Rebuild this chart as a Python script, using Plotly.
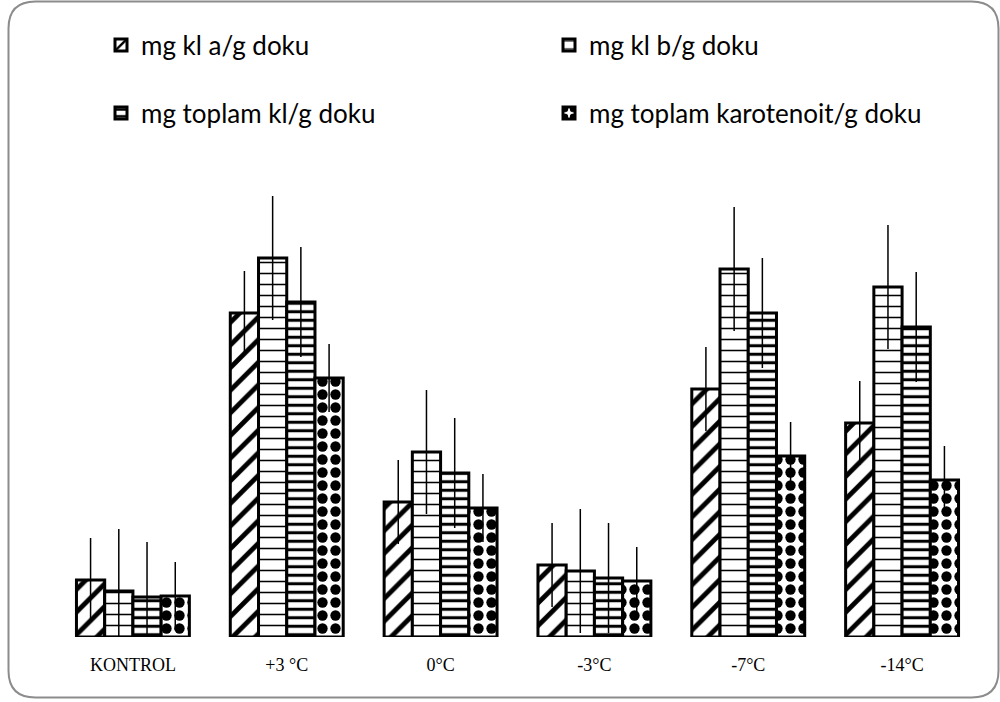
import plotly.graph_objects as go

# Chlorophyll / carotenoid content per treatment
categories = ["KONTROL", "+3 °C", "0°C", "-3°C", "-7°C", "-14°C"]
series_names = [
    "mg kl a/g doku",
    "mg kl b/g doku",
    "mg toplam kl/g doku",
    "mg toplam karotenoit/g doku",
]
kl_a = [0.285, 1.620, 0.675, 0.360, 1.240, 1.070]
kl_b = [0.230, 1.895, 0.925, 0.330, 1.840, 1.750]
kl_total = [0.200, 1.675, 0.820, 0.295, 1.620, 1.550]
carotenoid = [0.205, 1.295, 0.645, 0.280, 0.905, 0.785]
errors = [0.21, 0.31, 0.275, 0.17]

W, H = 1000, 702
M_L, M_R, M_T, M_B = 56, 21, 180, 65
Y_MAX = 2.285

patterns = [
    dict(shape="/", size=16, solidity=0.3),
    dict(shape="-", size=11, solidity=0.14),
    dict(shape="-", size=8.5, solidity=0.36),
    dict(shape=".", size=13, solidity=0.5),
]
values = [kl_a, kl_b, kl_total, carotenoid]
# one legend per entry: two columns, two rows
legend_ids = ["legend", "legend2", "legend3", "legend4"]
legend_xy = [(0.101, 45), (0.549, 45), (0.101, 113), (0.549, 113)]

fig = go.Figure()
for name, vals, pat, err, lg in zip(series_names, values, patterns, errors, legend_ids):
    fig.add_trace(go.Bar(
        x=categories,
        y=vals,
        name=name,
        legend=lg,
        marker=dict(
            color="white",
            line=dict(color="black", width=3),
            pattern=dict(pat, fgcolor="black", bgcolor="white",
                         fgopacity=1, fillmode="replace"),
        ),
        error_y=dict(type="constant", value=err, symmetric=True,
                     width=0, thickness=1.5, color="black"),
    ))


def px_x(p):
    return (p - M_L) / (W - M_L - M_R)


def px_y(p):
    return (H - M_B - p) / (H - M_T - M_B)


# rounded frame around the chart
x0, x1, y0, y1, r = px_x(8.5), px_x(998.5), px_y(1.5), px_y(697.5), 27
rx = r / (W - M_L - M_R)
ry = r / (H - M_T - M_B)
frame_path = (
    f"M {x0 + rx},{y0} L {x1 - rx},{y0} Q {x1},{y0} {x1},{y0 - ry} "
    f"L {x1},{y1 + ry} Q {x1},{y1} {x1 - rx},{y1} "
    f"L {x0 + rx},{y1} Q {x0},{y1} {x0},{y1 + ry} "
    f"L {x0},{y0 - ry} Q {x0},{y0} {x0 + rx},{y0} Z"
)
fig.add_shape(type="path", path=frame_path, xref="paper", yref="paper",
              line=dict(color="#8c8c8c", width=2), layer="below")

legend_style = dict(
    orientation="h",
    xref="container", yref="container",
    xanchor="left", yanchor="middle",
    font=dict(family="Lato", size=26, color="black"),
    bgcolor="rgba(0,0,0,0)", itemclick=False,
)
legend_layout = {
    lg: dict(legend_style, x=lx, y=1 - ly / H)
    for lg, (lx, ly) in zip(legend_ids, legend_xy)
}

fig.update_layout(
    width=W, height=H,
    margin=dict(l=M_L, r=M_R, t=M_T, b=M_B),
    paper_bgcolor="white", plot_bgcolor="white",
    barmode="group", bargap=0.266, bargroupgap=0,
    showlegend=True,
    xaxis=dict(
        showline=False, showgrid=False, zeroline=False, ticks="",
        ticklabelstandoff=15,
        tickfont=dict(family="Liberation Serif", size=18, color="black"),
    ),
    yaxis=dict(visible=False, range=[0, Y_MAX], showgrid=False, zeroline=False),
    **legend_layout,
)

fig.write_html("out.html")
